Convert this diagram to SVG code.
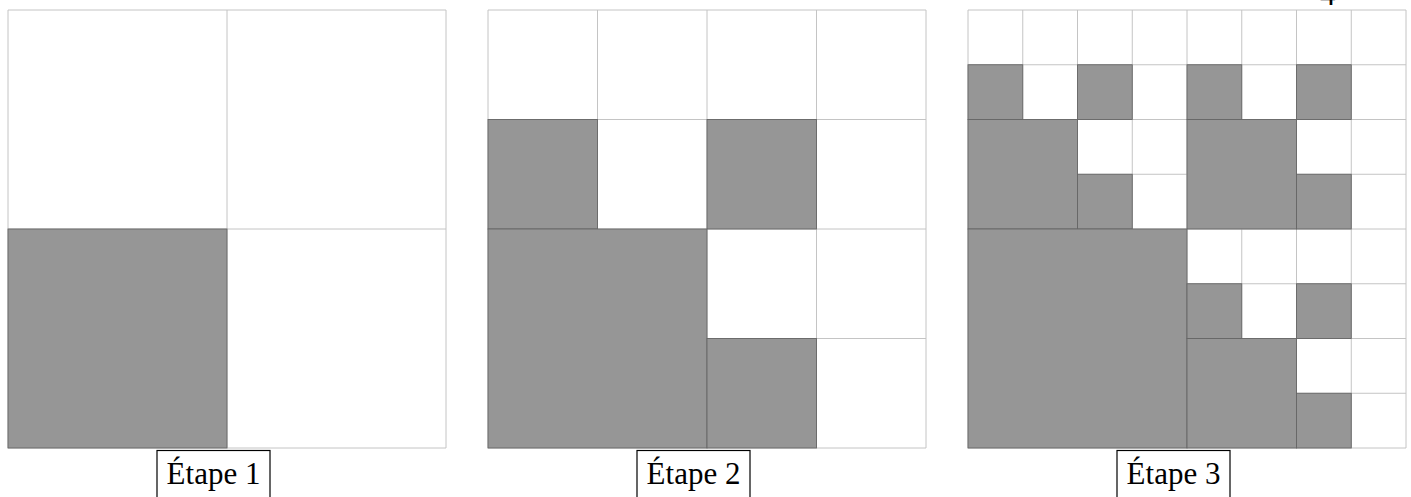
<svg xmlns="http://www.w3.org/2000/svg" width="1411" height="497" viewBox="0 0 1411 497">
<style>
.grid{stroke:#c4c4c4;stroke-width:1;fill:none}
.g{fill:#969696;stroke:#666;stroke-width:0.9}
.box{fill:#fff;stroke:#000;stroke-width:1.2}
.lbl{font-family:"Liberation Serif","DejaVu Serif",serif;font-size:31px;fill:#000;text-anchor:middle}
.num{font-family:"Liberation Serif","DejaVu Serif",serif;font-size:31px;fill:#000}
</style>
<rect x="0" y="0" width="1411" height="497" fill="#fff"/>
<g id="panel1">
<path class="grid" d="M8 10V448M227 10V448M446 10V448M8 10H446M8 229H446M8 448H446"/>
<rect class="g" x="8" y="229" width="219" height="219"/>
</g>
<g id="panel2">
<path class="grid" d="M488 10V448M597.5 10V448M707 10V448M816.5 10V448M926 10V448M488 10H926M488 119.5H926M488 229H926M488 338.5H926M488 448H926"/>
<rect class="g" x="488" y="119.5" width="109.5" height="109.5"/>
<rect class="g" x="707" y="119.5" width="109.5" height="109.5"/>
<rect class="g" x="488" y="229" width="219" height="219"/>
<rect class="g" x="707" y="338.5" width="109.5" height="109.5"/>
</g>
<g id="panel3">
<path class="grid" d="M968 10V448M1022.75 10V448M1077.5 10V448M1132.25 10V448M1187 10V448M1241.75 10V448M1296.5 10V448M1351.25 10V448M1406 10V448M968 10H1406M968 64.75H1406M968 119.5H1406M968 174.25H1406M968 229H1406M968 283.75H1406M968 338.5H1406M968 393.25H1406M968 448H1406"/>
<rect class="g" x="968" y="64.75" width="54.75" height="54.75"/>
<rect class="g" x="1077.5" y="64.75" width="54.75" height="54.75"/>
<rect class="g" x="968" y="119.5" width="109.5" height="109.5"/>
<rect class="g" x="1077.5" y="174.25" width="54.75" height="54.75"/>
<rect class="g" x="1187" y="64.75" width="54.75" height="54.75"/>
<rect class="g" x="1296.5" y="64.75" width="54.75" height="54.75"/>
<rect class="g" x="1187" y="119.5" width="109.5" height="109.5"/>
<rect class="g" x="1296.5" y="174.25" width="54.75" height="54.75"/>
<rect class="g" x="968" y="229" width="219" height="219"/>
<rect class="g" x="1187" y="283.75" width="54.75" height="54.75"/>
<rect class="g" x="1296.5" y="283.75" width="54.75" height="54.75"/>
<rect class="g" x="1187" y="338.5" width="109.5" height="109.5"/>
<rect class="g" x="1296.5" y="393.25" width="54.75" height="54.75"/>
</g>
<g id="label1">
<rect class="box" x="157" y="450.5" width="113" height="52"/>
<text class="lbl" x="213.5" y="484">Étape 1</text>
</g>
<g id="label2">
<rect class="box" x="637" y="450.5" width="113" height="52"/>
<text class="lbl" x="693.5" y="484">Étape 2</text>
</g>
<g id="label3">
<rect class="box" x="1117" y="450.5" width="113" height="52"/>
<text class="lbl" x="1173.5" y="484">Étape 3</text>
</g>
<g id="fragment">
<text class="num" x="1320" y="5">4</text>
</g>
</svg>
